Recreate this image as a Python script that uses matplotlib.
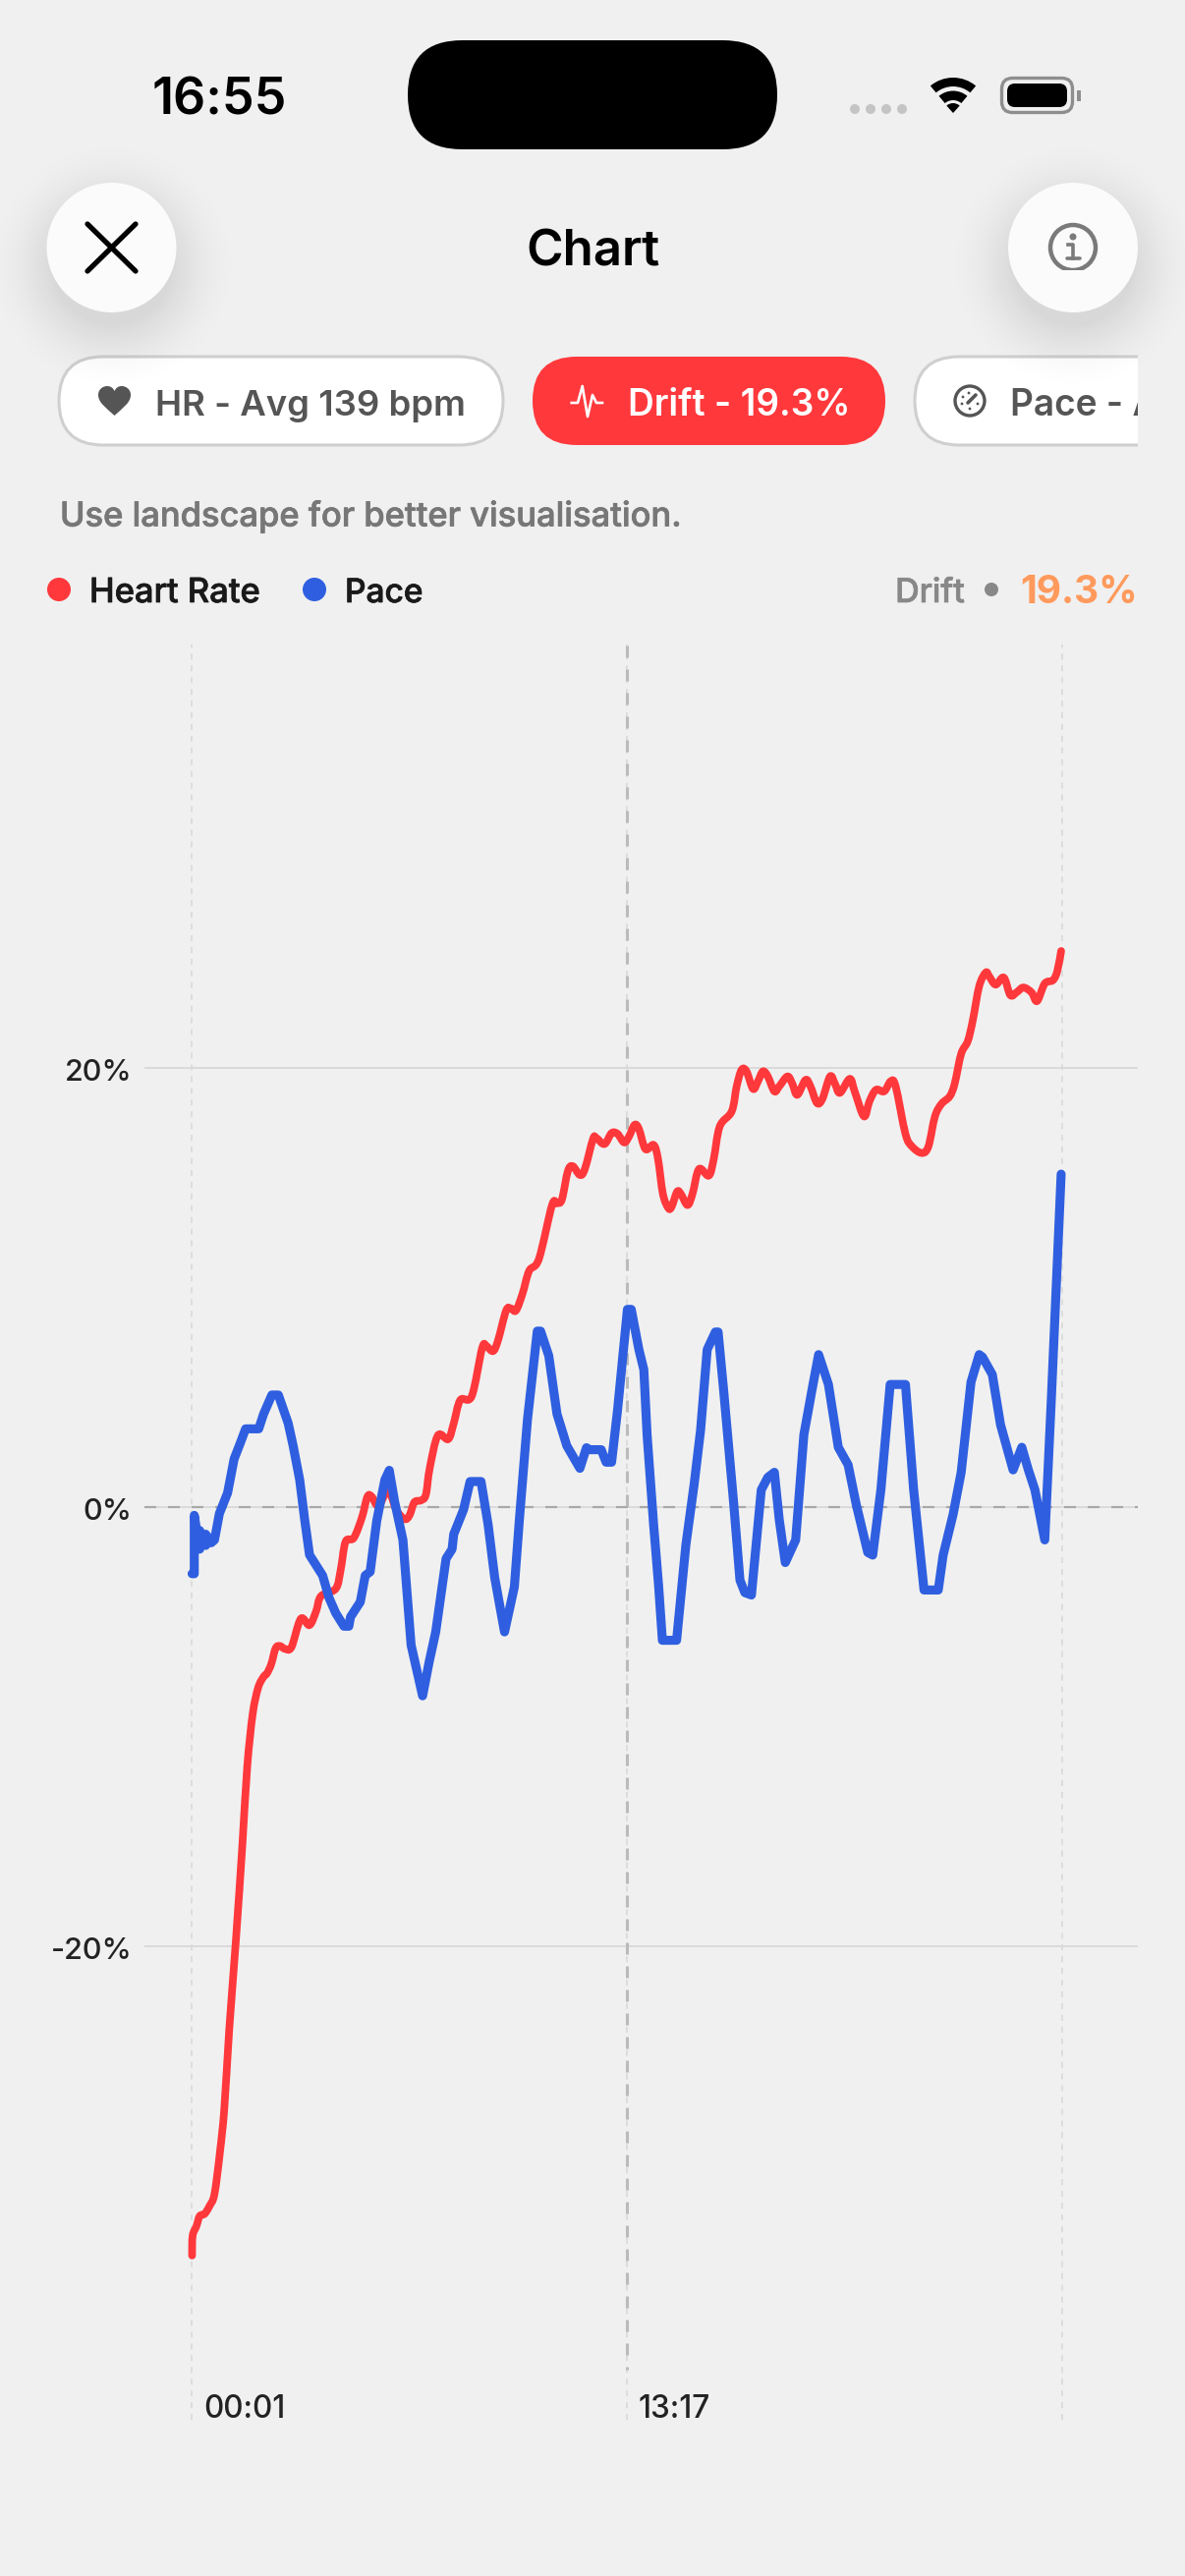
import matplotlib
matplotlib.use("Agg")
import matplotlib.patheffects as pe
import matplotlib.pyplot as plt
import numpy as np
from matplotlib.patches import Circle, FancyBboxPatch, PathPatch, Rectangle, Wedge
from matplotlib.path import Path
from matplotlib.transforms import ScaledTranslation

plt.rcParams["font.family"] = ["Inter", "DejaVu Sans"]
plt.rcParams["lines.scale_dashes"] = False

# seconds from start, drift in percent
hr_time = [1, 2, 9, 15, 24, 33, 42, 52, 60, 69, 81, 93, 102, 112, 122, 132, 138, 146, 154, 162,
           171, 183, 200, 216, 228, 237, 264, 273, 282, 297, 312, 322, 330, 342, 360, 375, 390,
           399, 408, 420, 429, 436, 451, 470, 480, 492, 513, 532, 540, 552, 561, 576, 585, 594,
           606, 618, 636, 660, 669, 678, 689, 698, 711, 720, 735, 741, 756, 769, 780, 792, 801,
           811, 819, 831, 846, 854, 863, 873, 879, 889, 896, 908, 917, 929, 947, 956, 967, 989,
           998, 1007, 1016, 1028, 1037, 1046, 1055, 1067, 1076, 1091, 1100, 1109, 1124, 1133,
           1145, 1155, 1169, 1178, 1187, 1205, 1214, 1231, 1241, 1253, 1268, 1280, 1289, 1307,
           1319, 1337, 1349, 1361, 1373, 1388, 1397, 1409, 1421, 1430, 1442, 1454, 1460, 1472,
           1487, 1499, 1511, 1523, 1538, 1548, 1562, 1577, 1585, 1592]
hr_drift = [-34.09, -33.19, -32.75, -32.29, -32.19, -31.83, -31.29, -29.39, -27.40, -23.80, -19.81,
            -15.42, -11.82, -9.42, -8.23, -7.73, -7.58, -7.15, -6.43, -6.33, -6.46, -6.38, -5.09,
            -5.38, -4.75, -4.06, -3.72, -2.87, -1.58, -1.41, -0.47, 0.47, 0.47, 0.05, 0.73, -0.13,
            -0.55, -0.38, 0.22, 0.30, 0.56, 1.76, 3.26, 3.09, 3.81, 4.87, 5.05, 7.24, 7.32, 7.10,
            7.58, 8.95, 9.04, 8.95, 9.72, 10.75, 11.30, 13.75, 13.83, 14.00, 15.30, 15.52, 15.12,
            15.39, 16.76, 16.81, 16.53, 17.03, 16.99, 16.60, 16.88, 17.40, 17.22, 16.30, 16.49,
            15.85, 14.25, 13.61, 13.68, 14.36, 14.25, 13.75, 14.25, 15.39, 15.09, 15.85, 17.33,
            18.02, 19.16, 19.91, 19.84, 19.04, 19.39, 19.84, 19.61, 18.93, 19.16, 19.61, 19.27,
            18.77, 19.45, 19.16, 18.40, 18.59, 19.61, 19.27, 18.86, 19.50, 18.93, 17.79, 18.47,
            19.00, 18.93, 19.39, 19.16, 16.99, 16.42, 16.12, 16.42, 17.79, 18.36, 18.70, 19.27,
            20.64, 21.21, 22.13, 23.72, 24.34, 24.18, 23.79, 24.11, 23.31, 23.45, 23.66, 23.43,
            23.04, 23.84, 23.99, 24.41, 25.32]

pace_time = [1, 5, 5, 15, 15, 26, 26, 36, 42, 51, 66, 78, 90, 99, 123, 132, 147, 159, 177, 186, 198,
             207, 216, 240, 252, 264, 279, 288, 291, 309, 318, 327, 339, 354, 362, 372, 387, 402,
             423, 435, 447, 466, 477, 480, 498, 510, 530, 543, 555, 573, 591, 600, 615, 633, 639,
             654, 669, 687, 711, 723, 729, 750, 759, 769, 780, 789, 798, 805, 819, 828, 834, 846,
             855, 862, 888, 905, 920, 932, 944, 959, 964, 974, 992, 1004, 1013, 1025, 1043, 1055,
             1067, 1076, 1087, 1106, 1121, 1136, 1148, 1166, 1184, 1202, 1217, 1238, 1247, 1262,
             1279, 1307, 1322, 1341, 1367, 1376, 1394, 1409, 1427, 1442, 1448, 1466, 1481, 1504,
             1520, 1532, 1544, 1562, 1574, 1592]
pace_drift = [-3.04, -3.04, -0.38, -1.92, -1.07, -1.75, -1.24, -1.63, -1.50, -0.30, 0.64, 2.19, 2.96,
              3.56, 3.56, 4.24, 5.10, 5.10, 3.81, 2.79, 1.24, -0.55, -2.18, -3.12, -4.15, -4.83,
              -5.43, -5.43, -5.01, -4.32, -3.12, -2.95, -0.64, 1.24, 1.67, 0.22, -1.50, -6.29, -8.60,
              -7.06, -5.69, -2.35, -1.92, -1.24, -0.12, 1.16, 1.16, -0.81, -3.21, -5.69, -3.64, -0.64,
              3.98, 8.01, 8.01, 6.89, 4.24, 2.79, 1.76, 2.70, 2.61, 2.61, 2.04, 2.04, 4.43, 6.72,
              9.00, 9.00, 7.17, 6.26, 3.29, -0.82, -3.56, -6.07, -6.07, -1.73, 1.01, 3.52, 7.17, 7.97,
              7.97, 5.35, 0.32, -3.33, -3.90, -4.01, 0.78, 1.35, 1.58, -0.59, -2.53, -1.50, 3.29,
              5.35, 6.94, 5.58, 2.72, 1.92, 0.10, -2.07, -2.19, 0.78, 5.58, 5.58, 0.78, -3.78, -3.78,
              -2.19, -0.36, 1.58, 5.69, 6.94, 6.83, 6.03, 3.75, 1.69, 2.72, 1.69, 0.78, -1.50, 4.89,
              15.16]

y_ticks = [-20, 0, 20]
y_labels = ["-20%", "0%", "20%"]
x_ticks = [1, 797, 1593]
x_labels = ["00:01", "13:17", ""]

BG = "#F0F0F0"
RED = "#FF383C"
BLUE = "#2F5FE0"
W, H = 1206, 2622


def fs(px):
    return px * 0.72


def heavier(color):
    return [pe.withStroke(linewidth=0.5, foreground=color)]


def pill(ax, x0, y0, x1, y1, face, edge=None, **kw):
    r = (y1 - y0) / 2
    p = FancyBboxPatch((x0 + r, y0 + r), x1 - x0 - 2 * r, 0,
                       boxstyle=f"round,pad={r},rounding_size={r}",
                       fc=face, ec=edge or "none", lw=2.2 if edge else 0, **kw)
    ax.add_patch(p)
    return p


def draw_shadow(ax, cx, cy, reach=150):
    # soft drop shadow, an alpha image because stacked faint circles round away to nothing
    xx, yy = np.meshgrid(np.arange(cx - reach, cx + reach), np.arange(cy - reach, cy + reach))
    dist = np.hypot(xx - cx, yy - cy)
    rgba = np.zeros(dist.shape + (4,))
    rgba[..., 3] = 0.10 * np.clip(1 - (dist - 60) / 75, 0, 1) ** 2
    ax.imshow(rgba, extent=(cx - reach, cx + reach, cy + reach, cy - reach), aspect="auto",
              interpolation="bilinear", zorder=3)


def smooth_path(xs, ys):
    # catmull-rom through the read points, the app draws this line as a spline
    verts = [(xs[0], ys[0])]
    n = len(xs)
    for i in range(n - 1):
        a = max(i - 1, 0)
        d = min(i + 2, n - 1)
        verts.append((xs[i] + (xs[i + 1] - xs[a]) / 6, ys[i] + (ys[i + 1] - ys[a]) / 6))
        verts.append((xs[i + 1] - (xs[d] - xs[i]) / 6, ys[i + 1] - (ys[d] - ys[i]) / 6))
        verts.append((xs[i + 1], ys[i + 1]))
    return Path(verts, [Path.MOVETO] + [Path.CURVE4] * (len(verts) - 1))


fig = plt.figure(figsize=(W / 100, H / 100), dpi=100, facecolor=BG)
ui = fig.add_axes([0, 0, 1, 1])
ui.axis("off")

# status bar
ui.text(155, 103, "16:55", fontsize=fs(52), color="black", va="center", fontweight="semibold")
pill(ui, 415, 41, 791, 152, "black")
for x in [870, 886, 902, 918]:
    ui.add_patch(Circle((x, 111), 5, fc="#C4C4C4", ec="none"))
ui.add_patch(Wedge((970, 115), 36, 230, 310, width=9, fc="black", ec="none"))
ui.add_patch(Wedge((970, 115), 22.5, 230, 310, width=9.5, fc="black", ec="none"))
ui.add_patch(Wedge((970, 115), 10, 228, 312, fc="black", ec="none"))
ui.add_patch(FancyBboxPatch((1029, 89), 53, 16, boxstyle="round,pad=9.5,rounding_size=11",
                            fc="none", ec="#8E8E8E", lw=2.4))
ui.add_patch(FancyBboxPatch((1032, 92), 47, 10, boxstyle="round,pad=7,rounding_size=8",
                            fc="black", ec="none"))
ui.add_patch(Rectangle((1096, 92), 4, 11, fc="#8E8E8E", ec="none"))

# pills
pill(ui, 60, 363, 512, 453, "white", "#CFCFCF", zorder=2)
pill(ui, 542, 363, 901, 453, RED, zorder=2)
pace_pill = pill(ui, 931, 363, 1320, 453, "white", "#CFCFCF", zorder=2)
clip = Rectangle((0, 340), 1158, 130, transform=ui.transData)
pace_pill.set_clip_path(clip)

draw_shadow(ui, 113.5, 270)
draw_shadow(ui, 1092, 270)
ui.set_xlim(0, W)
ui.set_ylim(H, 0)

# header buttons
ui.add_patch(Circle((113.5, 252), 66, fc="#FBFBFB", ec="none", zorder=4))
ui.add_patch(Circle((1092, 252), 66, fc="#FBFBFB", ec="none", zorder=4))
ui.plot([89, 138], [228, 276], color="black", lw=3.8, solid_capstyle="round", zorder=5)
ui.plot([138, 89], [228, 276], color="black", lw=3.8, solid_capstyle="round", zorder=5)
ui.text(603, 257, "Chart", fontsize=fs(51), color="black", ha="center", va="center",
        fontweight="semibold", zorder=5)
info = Circle((1092, 252), 23, fc="none", ec="#7A7A7A", lw=3.2, zorder=5)
ui.add_patch(info)
info.set_clip_path(Rectangle((1060, 220), 64, 55, transform=ui.transData))
ui.add_patch(Circle((1092, 241), 3.5, fc="#7A7A7A", ec="none", zorder=5))
ui.plot([1087, 1092, 1092], [249, 249, 263], color="#7A7A7A", lw=2.6, zorder=5)
ui.plot([1086, 1099], [263, 263], color="#7A7A7A", lw=2.6, solid_capstyle="round", zorder=5)

# pill contents
heart = Path([(116.5, 423), (108, 415), (100, 410), (100, 402), (100, 396), (105, 393), (109, 393),
              (113, 393), (115, 395), (116.5, 398), (118, 395), (120, 393), (124, 393),
              (128, 393), (133, 396), (133, 402), (133, 410), (125, 415), (116.5, 423)],
             [Path.MOVETO] + [Path.CURVE4] * 18)
ui.add_patch(PathPatch(heart, fc="#555555", ec="none", zorder=5))
ui.text(158, 413, "HR - Avg 139 bpm", fontsize=fs(36.5), color="#555555", va="center",
        fontweight="semibold", zorder=5)
ui.plot([581.7, 588, 592.7, 598, 603, 607, 613], [410, 410, 393, 424, 402, 410, 410],
        color="white", lw=1.9, solid_joinstyle="round", zorder=5)
ui.text(639, 413, "Drift - 19.3%", fontsize=fs(37), color="white", va="center",
        fontweight="semibold", zorder=5)
ui.add_patch(Circle((987, 408), 15, fc="none", ec="#555555", lw=2.4, zorder=5))
ui.plot([985, 993], [410, 402], color="#555555", lw=2.6, solid_capstyle="round", zorder=5)
for dx, dy in [(-8, 3), (-7, -4), (-1, -8), (8, 3), (0, 8)]:
    ui.add_patch(Circle((987 + dx, 408 + dy), 1.4, fc="#555555", ec="none", zorder=5))
pace_text = ui.text(1028, 413, "Pace - Avg", fontsize=fs(37), color="#555555", va="center",
                    fontweight="semibold", zorder=5, clip_on=True)
# ax.text swaps in the axes patch if a box clip goes through the constructor, so set it here
pace_text.set_clip_path(clip)

ui.text(61, 526, "Use landscape for better visualisation.", fontsize=fs(34.5), color="#777777",
        va="center", fontweight="medium", path_effects=heavier("#777777"))

# legend row
ui.add_patch(Circle((60, 600), 12, fc=RED, ec="none"))
ui.text(91, 604, "Heart Rate", fontsize=fs(34.5), color="#1A1A1A", va="center",
        fontweight="medium", path_effects=heavier("#1A1A1A"))
ui.add_patch(Circle((320, 600), 12, fc=BLUE, ec="none"))
ui.text(351, 604, "Pace", fontsize=fs(33.5), color="#1A1A1A", va="center",
        fontweight="medium", path_effects=heavier("#1A1A1A"))
ui.text(982, 604, "Drift", fontsize=fs(34), color="#888888", va="center", ha="right",
        fontweight="medium", path_effects=heavier("#888888"))
ui.add_patch(Circle((1009, 600), 7, fc="#888888", ec="none"))
ui.text(1158, 604, "19.3%", fontsize=fs(39), color="#FF9A5C", va="center", ha="right",
        fontweight="bold")

# chart
ax = fig.add_axes([147 / W, 1 - 2463 / H, (1158 - 147) / W, (2463 - 656) / H])
ax.patch.set_alpha(0)
ax.set_xlim(-86.2, 1732.4)
ax.set_ylim(-41.57, 39.28)
for s in ax.spines.values():
    s.set_visible(False)
ax.set_yticks(y_ticks, y_labels, fontweight="medium")
ax.set_xticks([])
ax.tick_params(axis="y", length=0, pad=9, labelsize=fs(30.5), labelcolor="#222222")
nudge = ScaledTranslation(0, -1.5 / 72, fig.dpi_scale_trans)
for lab in ax.get_yticklabels():
    lab.set_transform(lab.get_transform() + nudge)

ax.axhline(20, color="#D6D6D6", lw=1.2, zorder=1)
ax.axhline(-20, color="#D6D6D6", lw=1.2, zorder=1)
ax.axhline(0, color="#D6D6D6", lw=1.2, zorder=1)
ax.axhline(0, color="#A8A8A8", lw=1.6, ls=(0, (8.64, 8.64)), zorder=1.1)
for x in x_ticks:
    ax.axvline(x, color="#D8D8D8", lw=1.2, ls=(0, (4.3, 4.3)), zorder=1)
ax.plot([797, 797], [-39.3, 39.28], color="#BBBBBB", lw=2.2, ls=(6.5, (8.64, 8.64)), zorder=1.2)

ax.add_patch(PathPatch(smooth_path(hr_time, hr_drift), fc="none", ec=RED, lw=5.6,
                       joinstyle="round", capstyle="round", zorder=3))
ax.plot(pace_time, pace_drift, color=BLUE, lw=6.6, solid_joinstyle="round", solid_capstyle="round",
        zorder=4)

for x, lab in zip(x_ticks, x_labels):
    ax.annotate(lab, (x, 0), xycoords=("data", "axes fraction"), xytext=(8.6, 7.6),
                textcoords="offset points", fontsize=fs(31.5), color="#222222", va="center",
                fontweight="medium")

fig.savefig("out.png", dpi=100, facecolor=BG)
